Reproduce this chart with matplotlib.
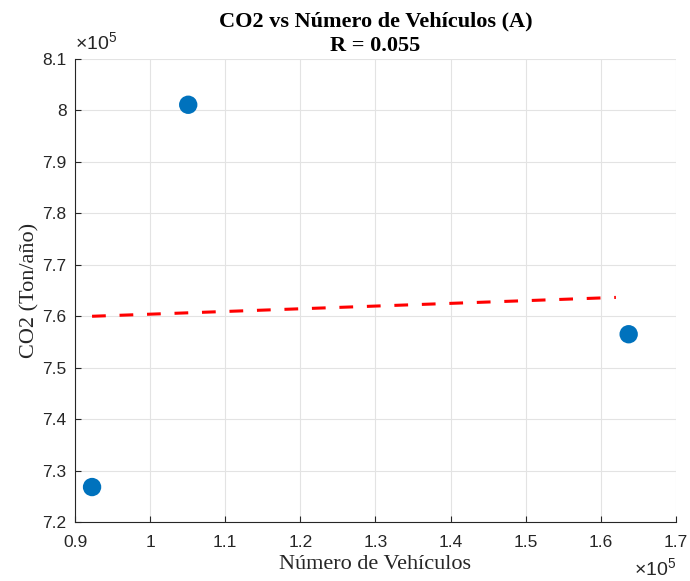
import numpy as np
import matplotlib.pyplot as plt
from matplotlib.ticker import FuncFormatter

# datos
vehiculos = [92270, 105070, 163700]
co2 = [726800, 801100, 756500]
x_fit_end = 162000
r_value = 0.055

x_ticks = np.arange(0.9, 1.71, 0.1) * 1e5
y_ticks = np.arange(7.2, 8.11, 0.1) * 1e5

serif = ['Liberation Serif', 'DejaVu Serif']
sans = ['Liberation Sans', 'DejaVu Sans']
dark = '#262626'

plt.rcParams['mathtext.fontset'] = 'custom'
plt.rcParams['mathtext.rm'] = 'Liberation Sans'
plt.rcParams['mathtext.it'] = 'Liberation Sans:italic'


def main():
    fig = plt.figure(figsize=(6.9, 5.81), dpi=100)
    ax = fig.add_axes([0.1087, 0.1015, 0.871, 0.797])

    coef = np.polyfit(vehiculos, co2, 1)
    line_x = np.array([min(vehiculos), x_fit_end])
    ax.plot(line_x, np.polyval(coef, line_x), color='#ff0000', lw=2.2,
            dashes=(4.5, 4.5), zorder=2)
    ax.scatter(vehiculos, co2, s=175, color='#0072bd', edgecolors='none', zorder=3)

    ax.set_xlim(0.9e5, 1.7e5)
    ax.set_ylim(7.2e5, 8.1e5)
    ax.set_xticks(x_ticks)
    ax.set_yticks(y_ticks)
    fmt = FuncFormatter(lambda v, p: '%g' % round(v / 1e5, 2))
    ax.xaxis.set_major_formatter(fmt)
    ax.yaxis.set_major_formatter(fmt)
    ax.tick_params(direction='in', length=4, width=0.8, color=dark,
                   labelcolor=dark, labelsize=12.5)
    ax.tick_params(axis='x', pad=9)
    ax.tick_params(axis='y', pad=6)
    for lbl in ax.get_xticklabels() + ax.get_yticklabels():
        lbl.set_family(sans)

    ax.grid(True, color='#e3e3e3', lw=0.8)
    ax.set_axisbelow(True)
    for s in ['top', 'right']:
        ax.spines[s].set_visible(False)
    for s in ['left', 'bottom']:
        ax.spines[s].set_color(dark)
        ax.spines[s].set_linewidth(0.8)

    ax.set_title('CO2 vs Número de Vehículos (A)\nR = %.3f' % r_value,
                 family=serif, fontsize=16, fontweight='bold', pad=6,
                 linespacing=1.25)
    ax.set_xlabel('Número de Vehículos', family=serif, fontsize=16,
                  color=dark, labelpad=4)
    ax.set_ylabel('CO2 (Ton/año)', family=serif, fontsize=16,
                  color=dark, labelpad=2)

    ax.text(0.0, 1.012, '×10$^{5}$', transform=ax.transAxes, family=sans,
            fontsize=14, color=dark, ha='left', va='bottom')
    ax.text(1.0, -0.076, '×10$^{5}$', transform=ax.transAxes, family=sans,
            fontsize=14, color=dark, ha='right', va='top')

    fig.savefig('out.png', dpi=100)


if __name__ == "__main__":
    main()
